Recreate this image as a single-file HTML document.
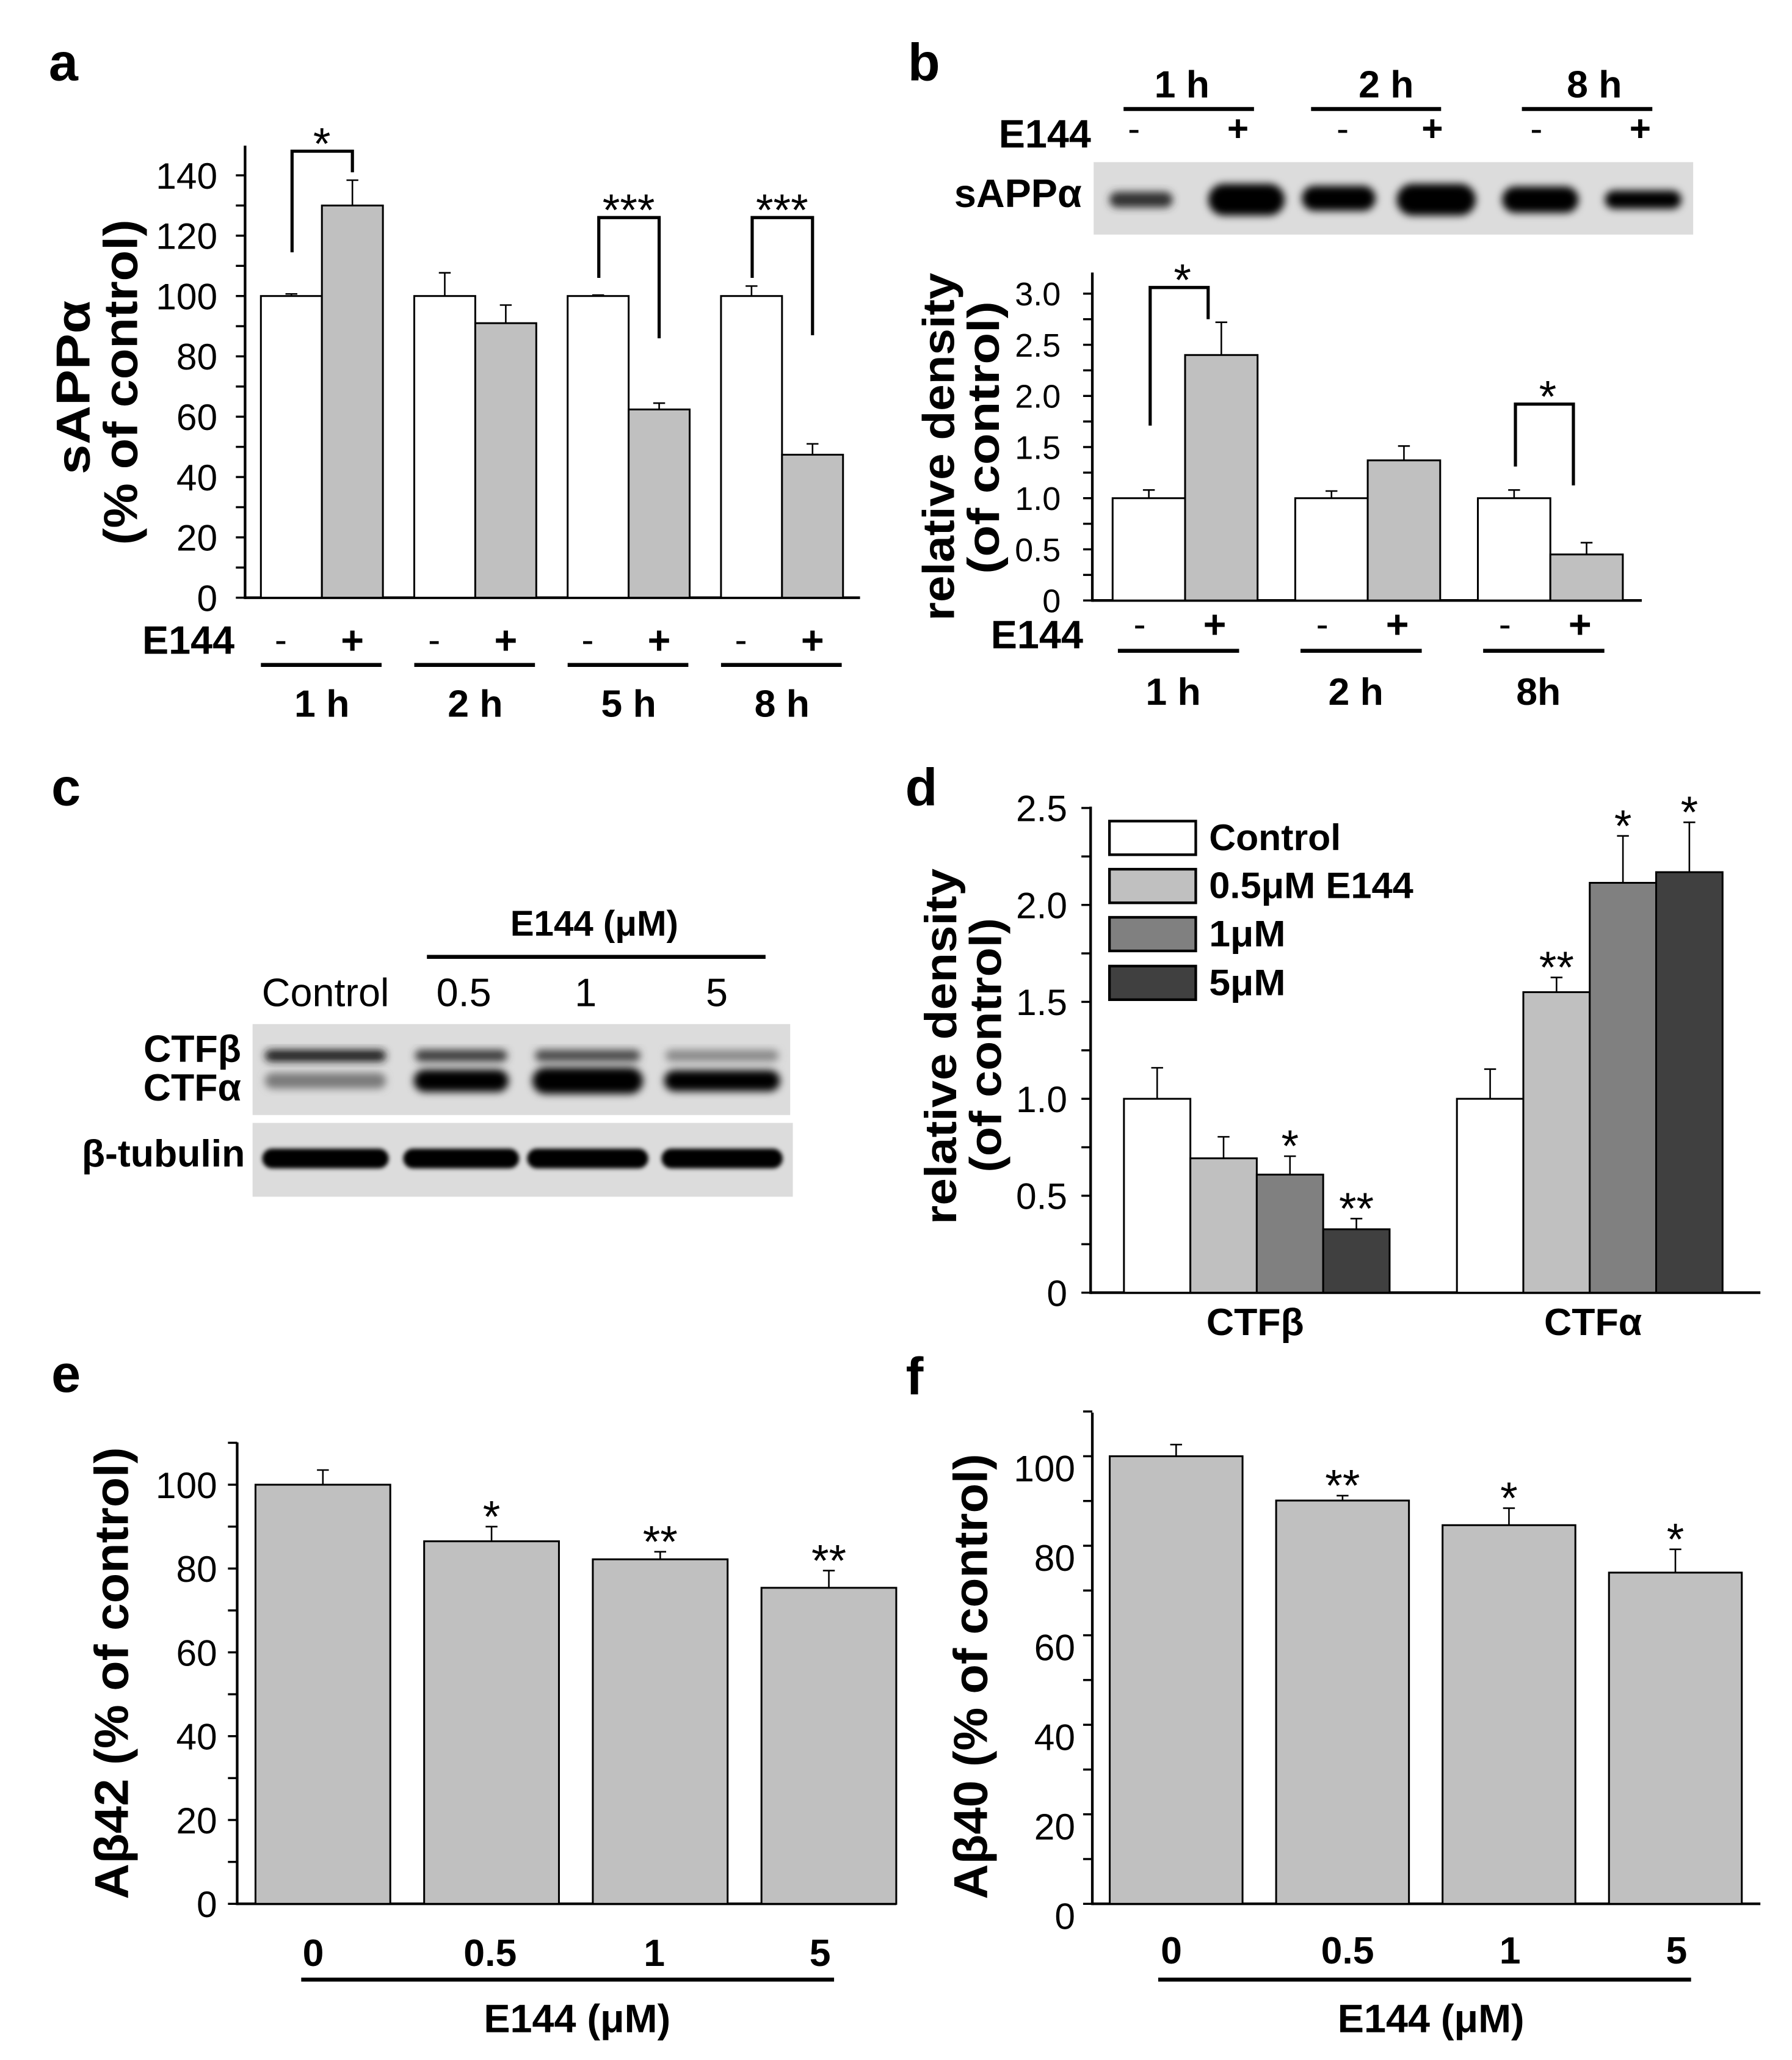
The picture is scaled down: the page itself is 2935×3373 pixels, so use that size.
<!DOCTYPE html>
<html><head><meta charset="utf-8"><style>
html,body{margin:0;padding:0;background:#fff;}
svg{display:block;}
text{font-family:"Liberation Sans",Arial,sans-serif;fill:#000;}
</style></head><body>
<svg id="fig" xmlns="http://www.w3.org/2000/svg" width="2935" height="3373" viewBox="0 0 1360 1563" preserveAspectRatio="none">
<defs>
<filter id="blur" x="-20%" y="-50%" width="140%" height="200%"><feGaussianBlur stdDeviation="3"/></filter>
<filter id="blur2" x="-20%" y="-50%" width="140%" height="200%"><feGaussianBlur stdDeviation="1.6"/></filter>
</defs>
</svg>
<script>
// ---------- DATA ----------
const aGroups=['1 h','2 h','5 h','8 h'];
const aCtrl=[100,100,100,100];
const aCtrlErr=[0.7,7.7,0.3,3.3];
const aE144=[130,91,62.4,47.4];
const aE144Err=[8.4,6,2.1,3.6];
const aTicks=[0,20,40,60,80,100,120,140];
const aSig=['*','','***','***'];
const aBrLeft=[114.5,0,106,106];
const aBrTop=[148,0,126,126];
const aBrRight=[141,0,86,87];

const bGroups=['1 h','2 h','8h'];
const bHeaders=['1 h','2 h','8 h'];
const bCtrl=[1,1,1];
const bCtrlErr=[0.08,0.07,0.08];
const bE144=[2.40,1.37,0.45];
const bE144Err=[0.32,0.14,0.115];
const bTicks=[0,0.5,1.0,1.5,2.0,2.5,3.0];
const bTickLabels=['0','0.5','1.0','1.5','2.0','2.5','3.0'];
const bSig=['*','','*'];
const bBrLeft=[1.71,0,1.31];
const bBrTop=[3.06,0,1.92];
const bBrRight=[2.75,0,1.125];

const dGroups=['CTFβ','CTFα'];
const dSeries=['Control','0.5μM E144','1μM','5μM'];
const dBeta=[1.0,0.693,0.609,0.327];
const dBetaErr=[0.16,0.111,0.095,0.055];
const dAlpha=[1.0,1.55,2.114,2.169];
const dAlphaErr=[0.153,0.076,0.242,0.257];
const dBetaSig=['','','*','**'];
const dAlphaSig=['','**','*','*'];
const dTicks=[0,0.5,1.0,1.5,2.0,2.5];
const dTickLabels=['0','0.5','1.0','1.5','2.0','2.5'];

const eCats=['0','0.5','1','5'];
const eVals=[100,86.5,82.2,75.4];
const eErr=[3.5,3.5,1.8,4.1];
const eSig=['','*','**','**'];
const eTicks=[0,20,40,60,80,100];

const fCats=['0','0.5','1','5'];
const fVals=[100,90.1,84.6,74.0];
const fErr=[2.6,1.1,3.8,5.2];
const fSig=['','**','*','*'];
const fTicks=[0,20,40,60,80,100];

// ---------- HELPERS ----------
const NS='http://www.w3.org/2000/svg';
const svg=document.getElementById('fig');
function mk(tag,parent){const e=document.createElementNS(NS,tag);(parent||svg).appendChild(e);return e;}
function line(x1,y1,x2,y2,w,name,color){
  const e=mk('line');
  e.setAttribute('x1',x1);e.setAttribute('y1',y1);e.setAttribute('x2',x2);e.setAttribute('y2',y2);
  e.setAttribute('stroke',color||'#000');e.setAttribute('stroke-width',w);
  
  
  return e;
}
function rect(x,y,w,h,fill,sw,name){
  const e=mk('rect');
  e.setAttribute('x',x);e.setAttribute('y',y);e.setAttribute('width',w);e.setAttribute('height',h);
  e.setAttribute('fill',fill);
  if(sw){e.setAttribute('stroke','#000');e.setAttribute('stroke-width',sw);}
  
  
  return e;
}
function text(x,y,str,size,weight,anchor,name,rot,len){
  const e=mk('text');
  e.setAttribute('x',x);e.setAttribute('y',y);
  e.setAttribute('font-size',size);e.setAttribute('font-weight',weight||'normal');
  e.setAttribute('text-anchor',anchor||'middle');
  if(rot){e.setAttribute('transform','rotate(-90 '+x+' '+y+')');}
  if(len){e.setAttribute('textLength',len);e.setAttribute('lengthAdjust','spacingAndGlyphs');}
  e.textContent=str;
  
  
  return e;
}
function scale(zero,ppu){return v=>zero-v*ppu;}
function yAxis(x,yTop,yZero,ticks,labels,minorStep,maxVal,ys,labelRight,fs,labelOff,pfx){
  line(x,yTop,x,yZero+1,2,pfx+'-y-axis');
  for(let v=0;v<=maxVal+1e-9;v+=minorStep){line(x-7,ys(v),x,ys(v),1.6,pfx+'-y-tick');}
  ticks.forEach((t,i)=>{text(labelRight,ys(t)+fs*0.36+(labelOff||0),labels[i],fs,'normal','end',pfx+'-y-tick-label');});
}
function bar(x,w,v,err,fill,ys,name){
  const top=ys(v);
  rect(x,top,w,ys(0)-top,fill,1.4,name);
  const cx=x+w/2;
  if(err>0){
    line(cx,top,cx,ys(v+err),1.2,name+'-error-bar');
    line(cx-4.5,ys(v+err),cx+4.5,ys(v+err),1.2,name+'-error-cap');
  }
}
function star(cx,v,err,sym,ys,name){ if(sym) text(cx,ys(v+err)+4,sym,34,'normal','middle',name); }
function bracket(xl,xr,vl,vt,vr,ys,name){
  const p=mk('polyline');
  p.setAttribute('points',xl+','+ys(vl)+' '+xl+','+ys(vt)+' '+xr+','+ys(vt)+' '+xr+','+ys(vr));
  p.setAttribute('fill','none');p.setAttribute('stroke','#000');p.setAttribute('stroke-width',2.4);
  
  
}
function band(cx,cy,w,h,color,name,blur){
  const e=mk('rect');
  e.setAttribute('x',cx-w/2);e.setAttribute('y',cy-h/2);e.setAttribute('width',w);e.setAttribute('height',h);
  e.setAttribute('rx',h/2);e.setAttribute('fill',color);e.setAttribute('filter','url(#'+(blur||'blur')+')');
  
  
}

// ---------- PANEL A ----------
text(37,61,'a',40,'bold','start','panel-a-label');
const ya=scale(453.5,2.289);
yAxis(186,110.5,453.5,aTicks,aTicks.map(String),10,145,ya,165,28,0,'a');
line(186,453.5,652.7,453.5,2,'a-x-axis');
aGroups.forEach((g,i)=>{
  const x0=198+i*116.4, w=46.3;
  bar(x0,w,aCtrl[i],aCtrlErr[i],'#fff',ya,'a-bar-control-'+i);
  bar(x0+w,w,aE144[i],aE144Err[i],'#c0c0c0',ya,'a-bar-e144-'+i);
  if(aSig[i]){
    bracket(x0+w/2+0.5,x0+1.5*w,aBrLeft[i],aBrTop[i],aBrRight[i],ya,'a-sig-bracket');
    text(x0+w,ya(aBrTop[i])+6,aSig[i],34,'normal','middle','a-sig-star');
  }
  text(x0+w/2-8,495,'-',28,'normal','middle','a-minus-sign');
  text(x0+1.5*w,496,'+',30,'bold','middle','a-plus-sign');
  line(x0,504.5,x0+2*w-1,504.5,3,'a-group-underline');
  text(x0+w,543.7,g,29,'bold','middle','a-group-label');
});
text(178,496,'E144',30,'bold','end','a-e144-label');
text(68,294,'sAPPα',36,'bold','middle','a-y-title-1',true,132);
text(104,290,'(% of control)',36,'bold','middle','a-y-title-2',true,247);

// ---------- PANEL B ----------
text(689,61,'b',40,'bold','start','panel-b-label');
bHeaders.forEach((h,i)=>{
  const cx=[897,1052,1210][i];
  text(cx,74,h,29,'bold','middle','b-blot-time-label');
});
line(852.7,82.7,951.7,82.7,3,'b-blot-header-line');
line(995,82.7,1093.7,82.7,3,'b-blot-header-line');
line(1155,82.7,1254,82.7,3,'b-blot-header-line');
text(828,112,'E144',30,'bold','end','b-blot-e144-label');
[[860.6,'-'],[939.5,'+'],[1019,'-'],[1087,'+'],[1166,'-'],[1244.8,'+']].forEach(s=>{
  text(s[0],107,s[1],28,s[1]=='+'?'bold':'normal','middle',s[1]=='+'?'b-blot-plus':'b-blot-minus');
});
text(821,157,'sAPPα',30,'bold','end','b-blot-row-label');
rect(830,123,455,55,'#dcdcdc',0,'b-western-blot');
band(866,151.5,48,12,'#333','b-band-lane1');
band(946,151.5,58,24,'#000','b-band-lane2');
band(1016,150.5,56,19,'#000','b-band-lane3');
band(1090,151.5,60,24,'#000','b-band-lane4');
band(1169,151.5,58,20,'#000','b-band-lane5');
band(1247,151.5,58,14,'#000','b-band-lane6');
const yb=scale(455.6,77.6);
yAxis(829,206.8,455.6,bTicks,bTickLabels,0.25,3.2,yb,805,25,0,'b');
line(829,455.6,1246,455.6,2,'b-x-axis');
bGroups.forEach((g,i)=>{
  const x0=844.4+i*138.6, w=55;
  bar(x0,w,bCtrl[i],bCtrlErr[i],'#fff',yb,'b-bar-control-'+i);
  bar(x0+w,w,bE144[i],bE144Err[i],'#c0c0c0',yb,'b-bar-e144-'+i);
  if(bSig[i]){
    bracket(x0+w/2+1,x0+1.5*w-10,bBrLeft[i],bBrTop[i],bBrRight[i],yb,'b-sig-bracket');
    text(x0+w-2,yb(bBrTop[i])+6,bSig[i],34,'normal','middle','b-sig-star');
  }
  text(x0+w/2-7,483,'-',28,'normal','middle','b-minus-sign');
  text(x0+1.5*w-5,484,'+',30,'bold','middle','b-plus-sign');
  line(x0+4,493.8,x0+4+92,493.8,3,'b-group-underline');
  text(x0+46,534.7,g,29,'bold','middle','b-group-label');
});
text(822,492,'E144',30,'bold','end','b-e144-label');
text(724,339,'relative density',34,'bold','middle','b-y-title-1',true,264);
text(758,332,'(of control)',34,'bold','middle','b-y-title-2',true,207);

// ---------- PANEL C ----------
text(39,611,'c',40,'bold','start','panel-c-label');
text(451,710,'E144 (μM)',27,'bold','middle','c-e144-header');
line(324,726,581,726,3,'c-header-line');
text(247,763.4,'Control',30,'normal','middle','c-lane-label-control');
text(352,763.4,'0.5',30,'normal','middle','c-lane-label-0.5');
text(444.5,763.4,'1',30,'normal','middle','c-lane-label-1');
text(544,763.4,'5',30,'normal','middle','c-lane-label-5');
rect(191.7,777,408,69,'#dcdcdc',0,'c-ctf-blot');
rect(191.7,852,410,56,'#dcdcdc',0,'c-tubulin-blot');
const cLanes=[247,350,446,548];
const cBetaCol=['#1a1a1a','#3a3a3a','#4a4a4a','#8a8a8a'];
const cAlphaCol=['#7a7a7a','#000','#000','#000'];
const cAlphaH=[12,17,20,16];
cLanes.forEach((cx,i)=>{
  band(cx,801,[92,70,80,86][i],9,cBetaCol[i],'c-ctf-beta-band');
  band(cx,820,[92,72,84,88][i],cAlphaH[i],cAlphaCol[i],'c-ctf-alpha-band');
  band(cx,879,[96,88,92,92][i],15,'#000','c-tubulin-band','blur2');
});
text(183,805.6,'CTFβ',29,'bold','end','c-ctf-beta-label');
text(183,835,'CTFα',29,'bold','end','c-ctf-alpha-label');
text(186,885,'β-tubulin',29,'bold','end','c-tubulin-label');

// ---------- PANEL D ----------
text(687,611,'d',40,'bold','start','panel-d-label');
const yd=scale(980.8,147.1);
yAxis(827.7,612,980.8,dTicks,dTickLabels,0.25,2.5,yd,810,28,0,'d');
line(827.7,980.8,1336,980.8,2,'d-x-axis');
const dFills=['#fff','#c0c0c0','#808080','#404040'];
dSeries.forEach((s,k)=>{
  const xb=853+k*50.4, xa=853+252.7+k*50.4;
  bar(xb,50.4,dBeta[k],dBetaErr[k],dFills[k],yd,'d-bar-ctfbeta-'+k);
  bar(xa,50.4,dAlpha[k],dAlphaErr[k],dFills[k],yd,'d-bar-ctfalpha-'+k);
  star(xb+25.2,dBeta[k],dBetaErr[k],dBetaSig[k],yd,'d-sig-star');
  star(xa+25.2,dAlpha[k],dAlphaErr[k],dAlphaSig[k],yd,'d-sig-star');
  const ly=[623,659.5,696,733][k];
  rect(842,ly,65.5,25.5,dFills[k],2,'d-legend-swatch');
  text(917.6,ly+22,s,28,'bold','start','d-legend-label',false,[100,155,58,58][k]);
});
text(952.6,1013,dGroups[0],29,'bold','middle','d-x-label-ctfbeta');
text(1209,1013,dGroups[1],29,'bold','middle','d-x-label-ctfalpha');
text(725.7,794,'relative density',34,'bold','middle','d-y-title-1',true,270);
text(759.8,793,'(of control)',34,'bold','middle','d-y-title-2',true,193);

// ---------- PANEL E ----------
text(39,1056,'e',40,'bold','start','panel-e-label');
const ye=scale(1444.5,3.18);
yAxis(180,1094.4,1444.5,eTicks,eTicks.map(String),10,110,ye,164.8,28,0,'e');
line(180,1444.5,680.3,1444.5,2,'e-x-axis');
eCats.forEach((c,i)=>{
  const x0=193.9+i*128, w=102.3;
  bar(x0,w,eVals[i],eErr[i],'#c0c0c0',ye,'e-bar-'+i);
  star(x0+w/2,eVals[i],eErr[i],eSig[i],ye,'e-sig-star');
  text([237.7,372,496.6,622.4][i],1491.6,c,29,'bold','middle','e-x-label');
});
line(228.6,1502,633,1502,3,'e-x-underline');
text(438,1542,'E144 (μM)',30,'bold','middle','e-x-title');
text(97,1269.5,'Aβ42 (% of control)',36,'bold','middle','e-y-title',true,343);

// ---------- PANEL F ----------
text(687.5,1058,'f',40,'bold','start','panel-f-label');
const yf=scale(1444.5,3.396);
yAxis(829,1071.8,1444.5,fTicks,fTicks.map(String),10,110,yf,816,28,9,'f');
line(829,1444.5,1336,1444.5,2,'f-x-axis');
fCats.forEach((c,i)=>{
  const x0=842.2+i*126.3, w=100.8;
  bar(x0,w,fVals[i],fErr[i],'#c0c0c0',yf,'f-bar-'+i);
  star(x0+w/2,fVals[i],fErr[i],fSig[i],yf,'f-sig-star');
  text([889,1022.7,1146,1272.4][i],1489.8,c,29,'bold','middle','f-x-label');
});
line(879,1502,1283.4,1502,3,'f-x-underline');
text(1086,1542,'E144 (μM)',30,'bold','middle','f-x-title');
text(749,1272,'Aβ40 (% of control)',36,'bold','middle','f-y-title',true,338);
</script>
</body></html>
